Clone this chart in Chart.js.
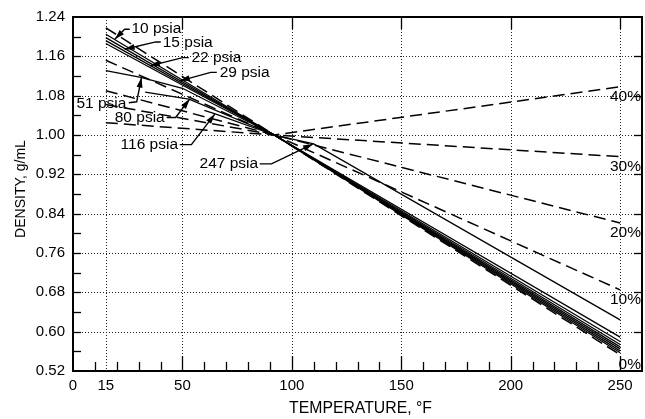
<!DOCTYPE html>
<html><head><meta charset="utf-8">
<script src="https://cdn.jsdelivr.net/npm/chart.js@4.4.0/dist/chart.umd.min.js"></script>
<style>html,body{margin:0;padding:0;background:#fff}#wrap{width:645px;height:419px;position:relative}</style>
</head><body><div id="wrap"><canvas id="c"></canvas></div>
<script>
// ---- tick / grid values ----
const xTickValues = [0, 15, 50, 100, 150, 200, 250];
const xGridValues = [15, 50, 100, 150, 200, 250];
const yTickValues = [0.52, 0.60, 0.68, 0.76, 0.84, 0.92, 1.00, 1.08, 1.16, 1.24];
const yGridValues = [0.60, 0.68, 0.76, 0.84, 0.92, 1.00, 1.08, 1.16];
const xTitle = 'TEMPERATURE, °F';
const yTitle = 'DENSITY, g/mL';

// ---- dashed percentage curves [temperature F, density g/mL] ----
const pct0  = [[15, 1.218], [92, 1.000], [250, 0.553]];
const pct10 = [[15, 1.152], [92, 1.000], [250, 0.685]];
const pct20 = [[15, 1.090], [92, 1.000], [250, 0.821]];
const pct30 = [[15, 1.062], [92, 1.000], [250, 0.956]];
const pct40 = [[15, 1.025], [92, 1.000], [250, 1.098]];
const pctNames = ['0%', '10%', '20%', '30%', '40%'];

// ---- solid pressure curves ----
const psia10  = [[15, 1.205], [92, 1.000], [250, 0.557]];
const psia15  = [[15, 1.198], [92, 1.000], [250, 0.561]];
const psia22  = [[15, 1.192], [92, 1.000], [250, 0.565]];
const psia29  = [[15, 1.186], [92, 1.000], [250, 0.569]];
const psia51  = [[15, 1.131], [31, 1.117], [50, 1.095], [92, 1.000], [250, 0.574]];
const psia80  = [[33, 1.087], [53, 1.073], [92, 1.000], [250, 0.580]];
const psia116 = [[60, 1.050], [65, 1.043], [92, 1.000], [250, 0.589]];
const psia247 = [[88, 1.004], [110, 0.982], [250, 0.624]];
const psiaNames = ['10 psia', '15 psia', '22 psia', '29 psia', '51 psia', '80 psia', '116 psia', '247 psia'];

// callouts: text anchor (data units), alignment, leader path ending at arrow tip (data units)
const callouts = [
  {t: psiaNames[0], at: [26.7, 1.2167], align: 'left',  path: [[25.9, 1.215], [23.6, 1.215], [19.1, 1.1948]]},
  {t: psiaNames[1], at: [41.0, 1.1879], align: 'left',  path: [[40.1, 1.1893], [37.8, 1.1893], [23.6, 1.1745]]},
  {t: psiaNames[2], at: [54.1, 1.1574], align: 'left',  path: [[52.9, 1.1574], [50.1, 1.1574], [35.1, 1.1406]]},
  {t: psiaNames[3], at: [67.0, 1.1270], align: 'left',  path: [[65.7, 1.1274], [62.9, 1.1274], [48.8, 1.1102]]},
  {t: psiaNames[4], at: [24.4, 1.0629], align: 'right', path: [[25.5, 1.0656], [29.1, 1.0676], [31.3, 1.1169]]},
  {t: psiaNames[5], at: [41.9, 1.0357], align: 'right', path: [[42.8, 1.0357], [46.9, 1.0357], [53.3, 1.0730]]},
  {t: psiaNames[6], at: [48.0, 0.9804], align: 'right', path: [[48.8, 0.9804], [54.1, 0.9804], [64.8, 1.0426]]},
  {t: psiaNames[7], at: [84.6, 0.9412], align: 'right', path: [[85.3, 0.9412], [90.7, 0.9412], [109.7, 0.9818]]}
];

const FONT = '"Liberation Sans", Arial, sans-serif';
const toXY = a => a.map(p => ({x: p[0], y: p[1]}));
const pctSeries = [pct0, pct10, pct20, pct30, pct40];
const psiaSeries = [psia10, psia15, psia22, psia29, psia51, psia80, psia116, psia247];

const datasets = [];
pctSeries.forEach((s, i) => datasets.push({label: pctNames[i], data: toXY(s), borderColor: '#000', borderWidth: 1.5, borderDash: [12, 6], pointRadius: 0, tension: 0, fill: false}));
psiaSeries.forEach((s, i) => datasets.push({label: psiaNames[i], data: toXY(s), borderColor: '#000', borderWidth: 1.3, pointRadius: 0, tension: 0, fill: false}));

const framePlugin = {
  id: 'frame',
  beforeDatasetsDraw(chart) {
    const {ctx, chartArea: a, scales: {x, y}} = chart;
    ctx.save();
    ctx.strokeStyle = '#222';
    ctx.lineWidth = 1;
    ctx.setLineDash([1, 2]);
    xGridValues.forEach(v => {const px = Math.round(x.getPixelForValue(v)) + 0.5; ctx.beginPath(); ctx.moveTo(px, a.top); ctx.lineTo(px, a.bottom); ctx.stroke();});
    yGridValues.forEach(v => {const py = Math.round(y.getPixelForValue(v)) + 0.5; ctx.beginPath(); ctx.moveTo(a.left, py); ctx.lineTo(a.right, py); ctx.stroke();});
    ctx.restore();
  },
  afterDatasetsDraw(chart) {
    const {ctx, chartArea: a, scales: {x, y}} = chart;
    ctx.save();
    ctx.strokeStyle = '#000';
    ctx.lineWidth = 1.3;
    for (let v = 10; v <= 250; v += 10) {
      const px = Math.round(x.getPixelForValue(v)) + 0.5;
      const len = v % 50 === 0 ? 15 : 9;
      ctx.beginPath(); ctx.moveTo(px, a.bottom); ctx.lineTo(px, a.bottom - len); ctx.stroke();
      if (v % 50 === 0) {ctx.beginPath(); ctx.moveTo(px, a.top); ctx.lineTo(px, a.top + 12); ctx.stroke();}
    }
    for (let k = 1; k < 18; k++) {
      const v = 0.52 + k * 0.04;
      const py = Math.round(y.getPixelForValue(v)) + 0.5;
      ctx.beginPath(); ctx.moveTo(a.left, py); ctx.lineTo(a.left + 8, py); ctx.stroke();
      if (k % 2 === 0) {ctx.beginPath(); ctx.moveTo(a.right, py); ctx.lineTo(a.right - 8, py); ctx.stroke();}
    }
    ctx.lineWidth = 2;
    ctx.strokeRect(a.left, a.top, a.right - a.left, a.bottom - a.top);
    ctx.restore();
  },
  afterDraw(chart) {
    const {ctx, chartArea: a, scales: {x, y}} = chart;
    ctx.save();
    ctx.fillStyle = '#000';
    ctx.strokeStyle = '#000';
    // axis titles
    ctx.textAlign = 'center'; ctx.textBaseline = 'middle';
    ctx.font = '15.8px ' + FONT;
    ctx.fillText(xTitle, (a.left + a.right) / 2 + 3, 409);
    ctx.save();
    ctx.translate(21, (a.top + a.bottom) / 2 - 5);
    ctx.rotate(-Math.PI / 2);
    ctx.font = '14px ' + FONT;
    ctx.fillText(yTitle, 0, 0);
    ctx.restore();

    ctx.font = '15.5px ' + FONT;
    pctSeries.forEach((s, i) => {
      const last = s[s.length - 1];
      const py = y.getPixelForValue(last[1]);
      ctx.textAlign = 'right'; ctx.textBaseline = 'middle';
      ctx.fillText(pctNames[i], a.right - 1, py + 10);
    });
    callouts.forEach(c => {
      ctx.textAlign = c.align; ctx.textBaseline = 'middle';
      ctx.fillText(c.t, x.getPixelForValue(c.at[0]), y.getPixelForValue(c.at[1]));
      const pts = c.path.map(p => [x.getPixelForValue(p[0]), y.getPixelForValue(p[1])]);
      ctx.lineWidth = 1.4;
      ctx.beginPath(); ctx.moveTo(pts[0][0], pts[0][1]);
      for (let i = 1; i < pts.length; i++) ctx.lineTo(pts[i][0], pts[i][1]);
      ctx.stroke();
      const [tx, ty] = pts[pts.length - 1], [sx, sy] = pts[pts.length - 2];
      const ang = Math.atan2(ty - sy, tx - sx), L = 10, W = 3;
      ctx.beginPath();
      ctx.moveTo(tx, ty);
      ctx.lineTo(tx - L * Math.cos(ang) + W * Math.sin(ang), ty - L * Math.sin(ang) - W * Math.cos(ang));
      ctx.lineTo(tx - L * Math.cos(ang) - W * Math.sin(ang), ty - L * Math.sin(ang) + W * Math.cos(ang));
      ctx.closePath(); ctx.fill();
    });
    ctx.restore();
  }
};

new Chart(document.getElementById('c'), {
  type: 'line',
  data: {datasets},
  plugins: [framePlugin],
  options: {
    responsive: true, maintainAspectRatio: false, animation: false,
    layout: {padding: {left: 0, right: 3, top: 16, bottom: 0}},
    plugins: {legend: {display: false}, tooltip: {enabled: false}},
    scales: {
      x: {
        type: 'linear', min: 0, max: 260,
        afterBuildTicks: s => { s.ticks = xTickValues.map(v => ({value: v})); },
        afterFit: s => { s.height = 48; },
        grid: {display: false, drawTicks: false}, border: {display: false},
        ticks: {color: '#000', font: {family: FONT, size: 15}, padding: 6, maxRotation: 0, autoSkip: false},
        title: {display: false}
      },
      y: {
        type: 'linear', min: 0.52, max: 1.24,
        afterBuildTicks: s => { s.ticks = yTickValues.map(v => ({value: v})); },
        afterFit: s => { s.width = 73; },
        grid: {display: false, drawTicks: false}, border: {display: false},
        ticks: {color: '#000', font: {family: FONT, size: 15}, padding: 8, autoSkip: false, callback: v => Number(v).toFixed(2)},
        title: {display: false}
      }
    }
  }
});
</script></body></html>
